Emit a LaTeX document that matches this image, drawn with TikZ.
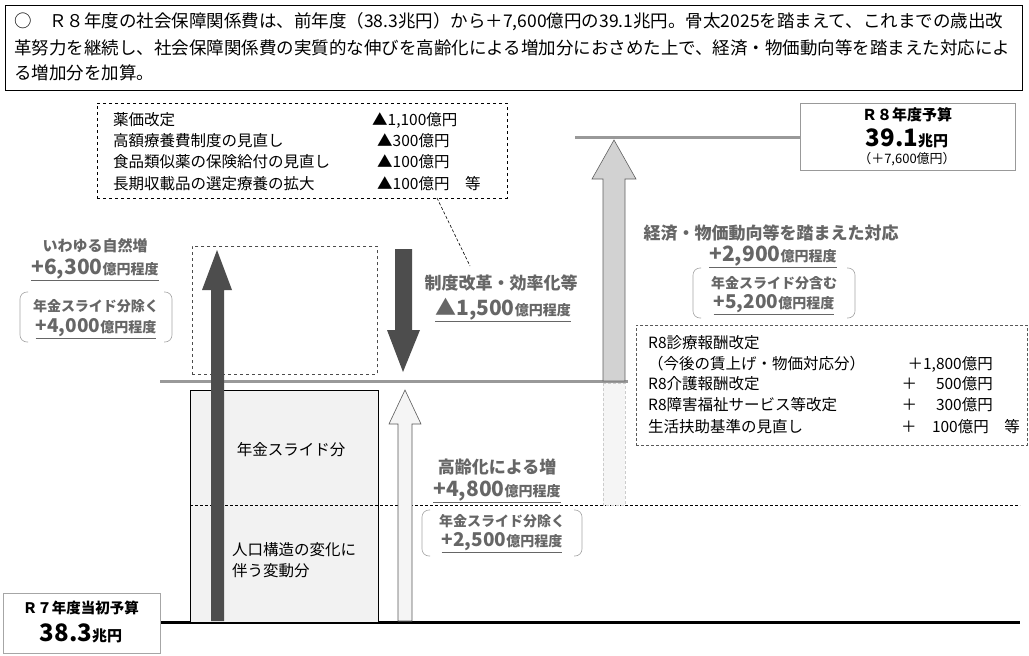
\documentclass[tikz,border=0pt]{standalone}
\usepackage{fontspec}
\setmainfont{Noto Sans CJK JP}
\usetikzlibrary{calc}
\definecolor{dk}{HTML}{4D4D4D}
\definecolor{lab}{HTML}{666666}
\tikzset{
 lbl/.style={inner sep=0pt,text=lab,font=\fontsize{14}{16}\selectfont\bfseries},
 big/.style={inner sep=0pt,text=lab,font=\fontsize{17}{19}\selectfont\bfseries},
 num/.style={inner sep=0pt,text=lab,font=\fontsize{21}{23}\selectfont\bfseries},
 item/.style={inner sep=0pt,anchor=west,font=\fontsize{15.5}{17}\selectfont},
 itemr/.style={inner sep=0pt,anchor=east,font=\fontsize{15.5}{17}\selectfont},
 brk/.style={draw=gray!70,rounded corners=7,line width=0.6pt},
}
\newcommand{\yen}[1]{\underline{#1{\fontsize{14}{16}\selectfont 億円程度}}}
\begin{document}
\begin{tikzpicture}[x=1pt,y=-1pt]
\useasboundingbox[fill=white] (0,0) rectangle (1029,656);
% top box
\node[draw,line width=0.8pt,minimum width=1017pt,minimum height=85pt,anchor=north west,inner sep=0pt] (top) at (5,5) {};
\node[item,font=\fontsize{17.5}{19}\selectfont] (t1) at (14,22) {○　Ｒ８年度の社会保障関係費は、前年度（38.3兆円）から＋7,600億円の39.1兆円。骨太2025を踏まえて、これまでの歳出改};
\node[item,font=\fontsize{17.5}{19}\selectfont] (t2) at (14,48) {革努力を継続し、社会保障関係費の実質的な伸びを高齢化による増加分におさめた上で、経済・物価動向等を踏まえた対応によ};
\node[item,font=\fontsize{17.5}{19}\selectfont] (t3) at (14,73) {る増加分を加算。};
% dashed top-left box
\node[draw,dashed,anchor=north west,minimum width=410pt,minimum height=95pt,inner sep=0pt] (dbox) at (97,103) {};
\node[item] (l1) at (113,120) {薬価改定};
\node[item] (v1) at (372,120) {▲1,100億円};
\node[item] (l2) at (113,141) {高額療養費制度の見直し};
\node[item] (v2) at (377,141) {▲300億円};
\node[item] (l3) at (113,162) {食品類似薬の保険給付の見直し};
\node[item] (v3) at (377,162) {▲100億円};
\node[item] (l4) at (113,184) {長期収載品の選定療養の拡大};
\node[item] (v4) at (377,184) {▲100億円　等};
\coordinate (ls) at (437,198); \coordinate (le) at (470,266);
\draw[densely dashed,line width=0.6pt] (ls) -- (le);
% lines
\coordinate (b0) at (160,622); \coordinate (b1) at (1020,622);
\draw[line width=3pt] (b0) -- (b1);
\coordinate (m0) at (160,381); \coordinate (m1) at (628,381);
\draw[line width=3pt,gray!80] (m0) -- (m1);
\coordinate (u0) at (575,137);
% R8 box
\node[draw=gray!80,line width=1.2pt,anchor=north west,minimum width=215pt,minimum height=67pt,inner sep=0pt] (r8) at (800,103) {};
\draw[line width=3pt,gray!80] (u0) -- (r8.west|-u0);
\node[inner sep=0pt,font=\fontsize{15}{17}\selectfont\bfseries] at (907,115) {Ｒ８年度予算};
\node[inner sep=0pt,font=\fontsize{15}{17}\selectfont\bfseries] at (907,138) {{\fontsize{24}{26}\selectfont 39.1}兆円};
\node[inner sep=0pt,font=\fontsize{13}{15}\selectfont] at (907,159) {（＋7,600億円）};
% R7 box
\node[draw=gray!70,line width=1.2pt,anchor=north west,minimum width=157pt,minimum height=60pt,inner sep=0pt,fill=white] (r7) at (3,593) {};
\node[inner sep=0pt,font=\fontsize{14.5}{16}\selectfont\bfseries] at (81,608) {Ｒ７年度当初予算};
\node[inner sep=0pt,font=\fontsize{15}{17}\selectfont\bfseries] at (81,633) {{\fontsize{24}{26}\selectfont 38.3}兆円};
% base rect
\node[draw,fill=gray!10,line width=0.8pt,anchor=north west,minimum width=188pt,minimum height=232pt,inner sep=0pt] (rect) at (190,390) {};
\coordinate (d0) at (190,505); \coordinate (d1) at (1020,505);
\draw[densely dashed,line width=0.6pt] (d0) -- (d1);
\node[inner sep=0pt,font=\fontsize{15.5}{17}\selectfont] at (291,450) {年金スライド分};
\node[inner sep=0pt,anchor=west,align=left,font=\fontsize{15.5}{21}\selectfont] at (232,560) {人口構造の変化に\\伴う変動分};
% dashed box middle
\node[draw,dashed,line width=0.8pt,gray!60!black,anchor=north west,minimum width=185pt,minimum height=128pt,inner sep=0pt] (db2) at (192,246) {};
% dark up arrow
\fill[dk] (211,621) -- (211,290) -- (202,290) -- (217,250) -- (232,290) -- (224,290) -- (224,621) -- cycle;
% dark down arrow
\fill[dk] (395,249) -- (412,249) -- (412,330) -- (420,330) -- (403,372) -- (387,330) -- (395,330) -- cycle;
% white up arrow
\filldraw[fill=gray!8,draw=gray!70!black,line width=0.6pt] (398,621) -- (398,424) -- (389,424) -- (405,390) -- (421,424) -- (412,424) -- (412,621) -- cycle;
% big gray arrow
\filldraw[fill=gray!8,draw=gray!40,densely dashed,line width=0.6pt] (603,383) rectangle (625,505);
\filldraw[fill=gray!35,draw=gray!75!black,line width=0.6pt] (603,381) -- (603,179) -- (592,179) -- (614,140) -- (636,179) -- (625,179) -- (625,381) -- cycle;
% left labels
\node[lbl,font=\fontsize{15}{17}\selectfont\bfseries] at (95,246) {いわゆる自然増};
\node[num] at (95,270) {\yen{+6,300}};
\draw[brk] (28,292) -- (20,292) -- (20,342) -- (28,342);
\draw[brk] (164,292) -- (172,292) -- (172,342) -- (164,342);
\node[lbl] at (96,306) {年金スライド分除く};
\node[num,font=\fontsize{19}{21}\selectfont\bfseries] at (96,329) {\yen{+4,000}};
% middle labels
\node[big] at (501,283) {制度改革・効率化等};
\node[num] at (503,310) {\yen{▲1,500}};
\node[big] at (497,467) {高齢化による増};
\node[num] at (497,492) {\yen{+4,800}};
\draw[brk] (430,510) -- (422,510) -- (422,556) -- (430,556);
\draw[brk] (574,510) -- (582,510) -- (582,556) -- (574,556);
\node[lbl] at (502,521) {年金スライド分除く};
\node[num,font=\fontsize{19}{21}\selectfont\bfseries] at (502,543) {\yen{+2,500}};
% right labels
\node[big] at (771,233) {経済・物価動向等を踏まえた対応};
\node[num] at (773,257) {\yen{+2,900}};
\draw[brk] (701,268) -- (693,268) -- (693,318) -- (701,318);
\draw[brk] (847,268) -- (855,268) -- (855,318) -- (847,318);
\node[lbl] at (774,283) {年金スライド分含む};
\node[num,font=\fontsize{19}{21}\selectfont\bfseries] at (774,305) {\yen{+5,200}};
% right dashed box
\node[draw=gray!70!black,densely dashed,line width=0.6pt,anchor=north west,minimum width=391pt,minimum height=120pt,inner sep=0pt] (rbox) at (636,325) {};
\node[item] at (648,343) {R8診療報酬改定};
\node[item] at (648,364) {（今後の賃上げ・物価対応分）};
\node[itemr] at (993,364) {＋1,800億円};
\node[item] at (648,384) {R8介護報酬改定};
\node[itemr] at (993,384) {＋　 500億円};
\node[item] at (648,405) {R8障害福祉サービス等改定};
\node[itemr] at (993,405) {＋　 300億円};
\node[item] at (648,427) {生活扶助基準の見直し};
\node[itemr] at (1020,427) {＋　100億円　等};
\end{tikzpicture}
\end{document}
